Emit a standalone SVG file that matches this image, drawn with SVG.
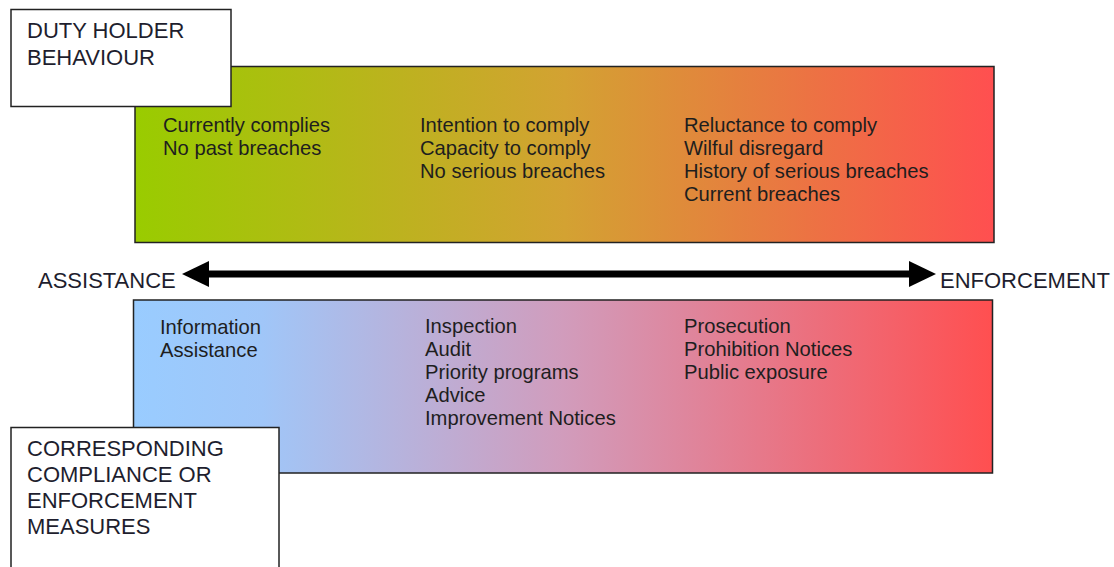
<svg xmlns="http://www.w3.org/2000/svg" width="1114" height="567" viewBox="0 0 1114 567">
<style>
.box{stroke:#222;stroke-width:1.5}
.lbl{fill:#fff;stroke:#222;stroke-width:1.5}
.t{font-family:"Liberation Sans",Arial,sans-serif;font-size:20.2px;fill:#1e1e1e}
.h{font-family:"Liberation Sans",Arial,sans-serif;font-size:22px;fill:#1e1e2e}
</style>
<defs>
<linearGradient id="gTop" x1="0" y1="0" x2="1" y2="0">
<stop offset="0" stop-color="#99cc00"/>
<stop offset="0.5" stop-color="#d3a232"/>
<stop offset="1" stop-color="#ff4f50"/>
</linearGradient>
<linearGradient id="gBot" x1="0" y1="0" x2="1" y2="0">
<stop offset="0" stop-color="#99ccff"/>
<stop offset="0.15" stop-color="#a0c6f8"/>
<stop offset="0.5" stop-color="#d19cbc"/>
<stop offset="1" stop-color="#ff4f50"/>
</linearGradient>
</defs>
<g id="behaviour-band">
<rect class="box" x="135" y="66.5" width="859" height="176" fill="url(#gTop)"/>
<text class="t" x="163" y="132">Currently complies</text>
<text class="t" x="163" y="155">No past breaches</text>
<text class="t" x="420" y="132">Intention to comply</text>
<text class="t" x="420" y="155">Capacity to comply</text>
<text class="t" x="420" y="178">No serious breaches</text>
<text class="t" x="684" y="132">Reluctance to comply</text>
<text class="t" x="684" y="155">Wilful disregard</text>
<text class="t" x="684" y="178">History of serious breaches</text>
<text class="t" x="684" y="201">Current breaches</text>
</g>
<g id="measures-band">
<rect class="box" x="133.5" y="300" width="859" height="173" fill="url(#gBot)"/>
<text class="t" x="160" y="334">Information</text>
<text class="t" x="160" y="357">Assistance</text>
<text class="t" x="425" y="333">Inspection</text>
<text class="t" x="425" y="356">Audit</text>
<text class="t" x="425" y="379">Priority programs</text>
<text class="t" x="425" y="402">Advice</text>
<text class="t" x="425" y="425">Improvement Notices</text>
<text class="t" x="684" y="333">Prosecution</text>
<text class="t" x="684" y="356">Prohibition Notices</text>
<text class="t" x="684" y="379">Public exposure</text>
</g>
<g id="duty-holder-label">
<rect class="lbl" x="11" y="9.5" width="220" height="97"/>
<text class="h" x="27" y="38">DUTY HOLDER</text>
<text class="h" x="27" y="65">BEHAVIOUR</text>
</g>
<g id="measures-label">
<rect class="lbl" x="11" y="427.5" width="268" height="160"/>
<text class="h" x="27" y="456">CORRESPONDING</text>
<text class="h" x="27" y="482">COMPLIANCE OR</text>
<text class="h" x="27" y="508">ENFORCEMENT</text>
<text class="h" x="27" y="534">MEASURES</text>
</g>
<g id="connectors">
<line x1="205" y1="274" x2="913" y2="274" stroke="#000" stroke-width="7"/>
<polygon points="182,274 209,261 209,287" fill="#000"/>
<polygon points="936,274 909,261 909,287" fill="#000"/>
</g>
<g id="axis-labels">
<text class="h" x="38" y="288">ASSISTANCE</text>
<text class="h" x="940" y="288">ENFORCEMENT</text>
</g>
</svg>
